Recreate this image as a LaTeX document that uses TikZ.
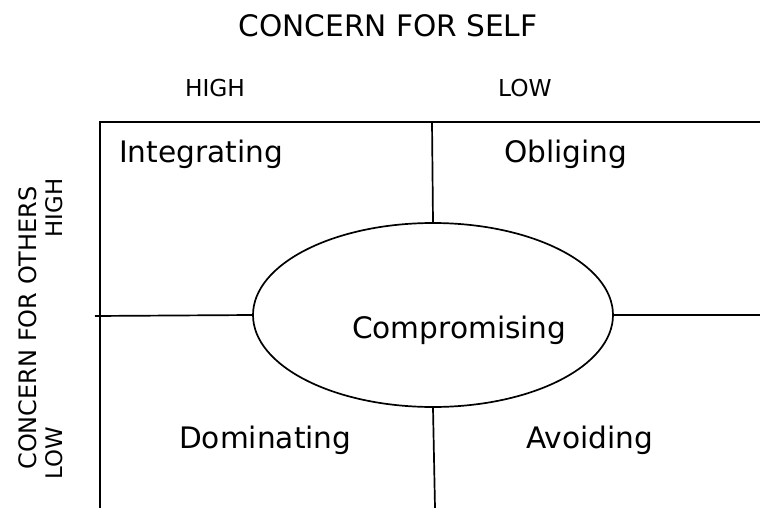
\documentclass[tikz,border=0pt]{standalone}
\usepackage{fontspec}
\setmainfont{DejaVu Sans}
\usetikzlibrary{shapes.geometric}
\begin{document}
\begin{tikzpicture}[x=1pt,y=-1pt,
  lbl/.style={inner sep=0pt,font=\fontsize{29.6}{31}\selectfont},
  axis/.style={inner sep=0pt,font=\fontsize{24}{26}\selectfont},
  lvl/.style={inner sep=0pt,font=\fontsize{23.3}{25}\selectfont},
  rlvl/.style={inner sep=0pt,font=\fontsize{22.8}{24}\selectfont},
  ln/.style={line width=1.7pt,black}]
\useasboundingbox (0,0) rectangle (760,508);
% frame
\coordinate (tr) at (760,122);
\coordinate (tl) at (100,122);
\coordinate (bl) at (100,508);
\draw[ln] (tr) -- (tl) -- (bl);
% ellipse
\node[ellipse,draw,line width=1.7pt,minimum width=360pt,minimum height=184pt,inner sep=0pt] (c) at (433,315) {};
\coordinate (ttop) at (432,122);
\coordinate (lend) at (95,316);
\coordinate (rend) at (760,315);
\coordinate (bend) at (435,508);
\draw[ln] (c.north) -- (ttop);
\draw[ln] (c.west) -- (lend);
\draw[ln] (c.east) -- (rend);
\draw[ln] (c.south) -- (bend);
% texts
\node[lbl,anchor=base] (title) at (388,37) {CONCERN FOR SELF};
\node[lvl,anchor=base] (h1) at (215,97) {HIGH};
\node[lvl,anchor=base] (l1) at (525,97) {LOW};
\node[lbl,anchor=base west] (int) at (119,162) {Integrating};
\node[lbl,anchor=base west] (obl) at (504,162) {Obliging};
\node[lbl,anchor=base west] (com) at (352,338) {Compromising};
\node[lbl,anchor=base west] (dom) at (179,448) {Dominating};
\node[lbl,anchor=base west] (avo) at (526,448) {Avoiding};
\node[axis,rotate=90] (cfo) at (28,328) {CONCERN FOR OTHERS};
\node[rlvl,rotate=90] (h2) at (54,208) {HIGH};
\node[rlvl,rotate=90] (l2) at (54,453) {LOW};
\end{tikzpicture}
\end{document}
